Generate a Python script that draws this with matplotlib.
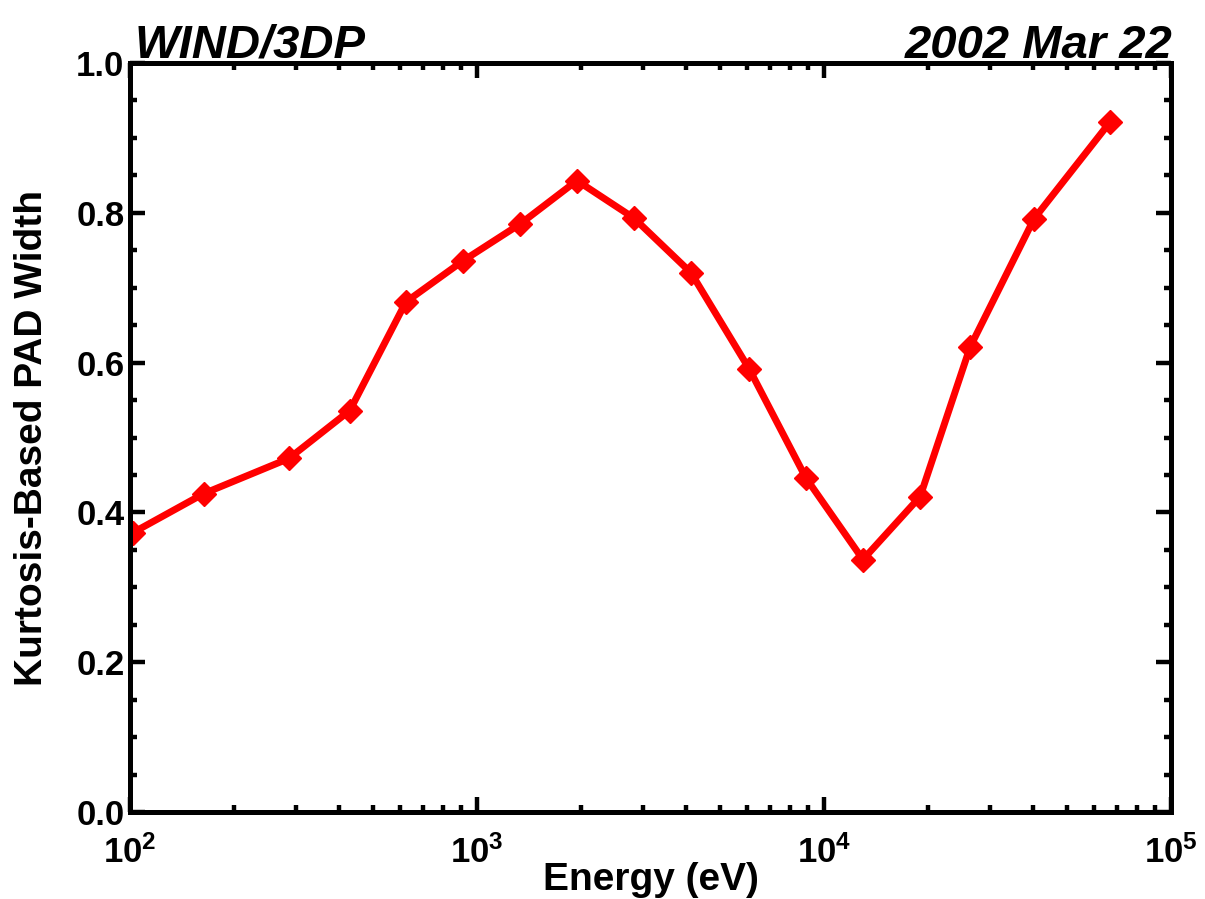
import numpy as np
import matplotlib
matplotlib.use('Agg')
import matplotlib.pyplot as plt
from matplotlib.ticker import LogLocator, MultipleLocator, LogFormatterSciNotation, FormatStrFormatter

# values
energy = [102, 163, 287, 430, 624, 912, 1331, 1941, 2832, 4137,
          6080, 8870, 12950, 18920, 26380, 40300, 66700]
pad_width = [0.373, 0.425, 0.472, 0.536, 0.681, 0.736, 0.785, 0.843, 0.793, 0.720,
             0.592, 0.446, 0.337, 0.421, 0.621, 0.792, 0.921]

instrument = 'WIND/3DP'
date_label = '2002 Mar 22'

plt.rcParams['font.family'] = ['Liberation Sans', 'DejaVu Sans']
plt.rcParams['font.weight'] = 'bold'

fig = plt.figure(figsize=(12.05, 8.99), dpi=100)
ax = fig.add_axes([130 / 1205, 1 - 812 / 899, 1041 / 1205, 749 / 899])

ax.plot(energy, pad_width, color='red', lw=5, marker='D', ms=12,
        mfc='red', mec='red', solid_joinstyle='miter')

ax.set_xscale('log')
ax.set_xlim(1e2, 1e5)
ax.set_ylim(0.0, 1.0)

ax.xaxis.set_major_locator(LogLocator(base=10, numticks=10))
ax.xaxis.set_minor_locator(LogLocator(base=10, subs=np.arange(2, 10), numticks=20))
ax.xaxis.set_major_formatter(LogFormatterSciNotation())
ax.yaxis.set_major_locator(MultipleLocator(0.2))
ax.yaxis.set_minor_locator(MultipleLocator(0.05))
ax.yaxis.set_major_formatter(FormatStrFormatter('%.1f'))

for s in ax.spines.values():
    s.set_linewidth(3.6)

ax.tick_params(which='both', direction='in', top=True, right=True, width=3.2)
ax.tick_params(which='major', length=11, labelsize=25)
ax.tick_params(which='minor', length=5)
ax.tick_params(axis='y', which='major', pad=4)
ax.tick_params(axis='x', which='major', pad=17)

ax.set_xlabel('Energy (eV)', fontsize=28, fontweight='bold')
ax.xaxis.set_label_coords(0.5, -0.067)
ax.set_ylabel('Kurtosis-Based PAD Width', fontsize=28, fontweight='bold')
ax.yaxis.set_label_coords(-0.077, 0.5)

fig.text(135 / 1205, 1 - 58 / 899, instrument, fontsize=34, fontweight='bold',
         style='italic', ha='left', va='baseline')
fig.text(1172 / 1205, 1 - 58 / 899, date_label, fontsize=34, fontweight='bold',
         style='italic', ha='right', va='baseline')

fig.savefig('out.png', dpi=100)
